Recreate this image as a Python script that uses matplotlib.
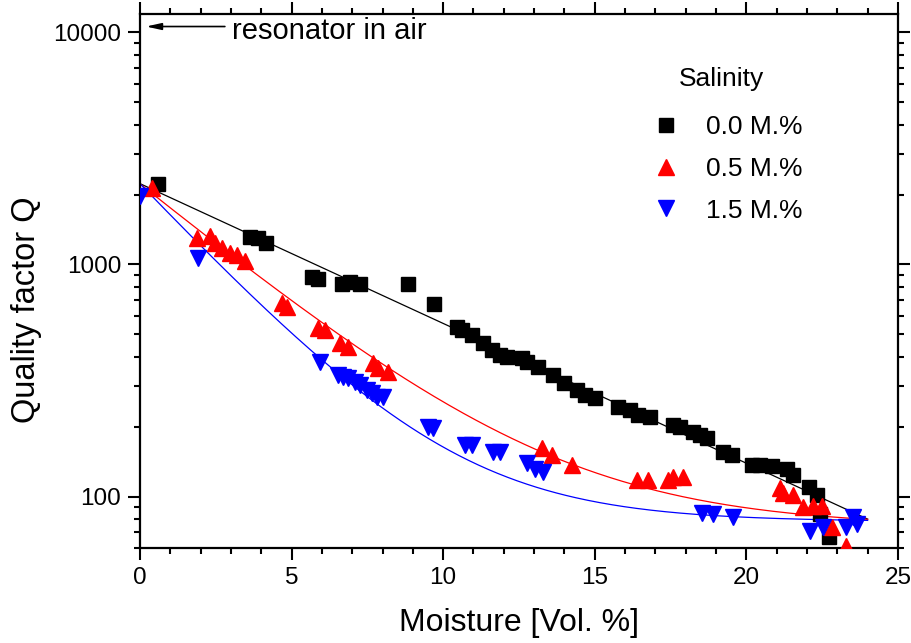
import matplotlib
matplotlib.use("Agg")
import matplotlib.pyplot as plt
import numpy as np
from matplotlib.ticker import MultipleLocator, LogLocator, NullFormatter, FixedLocator

plt.rcParams["font.family"] = ["Liberation Sans", "DejaVu Sans"]

# 0.0 M.% salinity (black squares)
x_s0 = [0.59, 3.63, 3.89, 4.16, 5.68, 5.87, 6.67, 6.93, 7.26, 8.84, 9.70, 10.46,
        10.63, 10.96, 11.32, 11.62, 11.88, 12.11, 12.61, 12.77, 13.14, 13.63, 13.99,
        14.42, 14.69, 15.02, 15.78, 16.17, 16.44, 16.83, 17.59, 17.82, 18.25, 18.48,
        18.71, 19.24, 19.54, 20.20, 20.46, 20.86, 21.35, 21.55, 22.05, 22.34, 22.44,
        22.71]
q_s0 = [2230, 1318, 1300, 1234, 887, 863, 820, 837, 820, 820, 673, 537,
        521, 495, 458, 427, 406, 398, 395, 380, 361, 334, 308,
        288, 274, 266, 243, 236, 225, 220, 204, 200, 190, 185,
        179, 156, 151, 137, 137, 135, 131, 124, 110, 102, 84,
        67]

# 0.5 M.% salinity (red up-triangles)
x_s1 = [0.40, 1.88, 2.31, 2.48, 2.71, 2.97, 3.20, 3.47, 4.69, 4.85, 5.87, 6.11,
        6.60, 6.86, 7.69, 7.85, 8.18, 13.27, 13.60, 14.26, 16.40, 16.77, 17.43,
        17.59, 17.92, 21.12, 21.22, 21.55, 21.88, 22.21, 22.51, 22.84, 23.27]
q_s1 = [2140, 1306, 1330, 1242, 1183, 1125, 1094, 1040, 681, 653, 531, 521,
        458, 440, 376, 358, 344, 162, 151, 137, 118, 118, 118,
        121, 121, 109, 104, 102, 90, 91, 91, 74, 61]

# 1.5 M.% salinity (blue down-triangles)
x_s2 = [0.00, 1.91, 5.94, 6.53, 6.70, 6.86, 7.10, 7.26, 7.49, 7.66, 7.82, 8.02,
        9.50, 9.67, 10.73, 10.96, 11.65, 11.88, 12.77, 13.04, 13.30, 18.55, 18.91,
        19.57, 22.11, 22.54, 23.27, 23.53, 23.66]
q_s2 = [1977, 1062, 380, 334, 327, 324, 312, 303, 288, 279, 269, 269,
        200, 197, 167, 167, 155, 155, 140, 131, 128, 85, 84,
        82, 71, 74, 74, 82, 76]

# fit parameters: Q = y0 + A*exp(-x/t)
fit_s0 = (0.0, 2230.0, 7.21)
fit_s1 = (74.0, 2150.0, 4.05)
fit_s2 = (78.0, 2150.0, 3.10)
FIT_X_MAX = 24.0

fig = plt.figure(figsize=(9.12, 6.43), dpi=100)
ax = fig.add_axes([0.1535, 0.1477, 0.8311, 0.8305])

xf = np.linspace(0, FIT_X_MAX, 300)
for (y0, a, t), c in ((fit_s0, "black"), (fit_s1, "red"), (fit_s2, "blue")):
    ax.plot(xf, y0 + a * np.exp(-xf / t), color=c, lw=0.9, zorder=2)

ax.plot(x_s0, q_s0, "s", color="black", ms=9.8, ls="none", label="0.0 M.%", zorder=3)
ax.plot(x_s1, q_s1, "^", color="red", ms=11.5, ls="none", label="0.5 M.%", zorder=3)
ax.plot(x_s2, q_s2, "v", color="blue", ms=11.5, ls="none", label="1.5 M.%", zorder=3)

ax.set_yscale("log")
ax.set_xlim(0, 25)
ax.set_ylim(60, 12000)
ax.xaxis.set_major_locator(MultipleLocator(5))
ax.xaxis.set_minor_locator(MultipleLocator(1))
ax.yaxis.set_major_locator(FixedLocator([100, 1000, 10000]))
ax.yaxis.set_major_formatter(matplotlib.ticker.FuncFormatter(lambda v, p: f"{int(v)}"))
ax.yaxis.set_minor_locator(LogLocator(base=10, subs=np.arange(2, 10)))
ax.yaxis.set_minor_formatter(NullFormatter())

for s in ax.spines.values():
    s.set_linewidth(1.6)
ax.tick_params(which="both", direction="out", top=True, right=True, width=1.5,
               labelsize=17.5)
ax.tick_params(which="major", length=8.5)
ax.tick_params(which="minor", length=4.5)
ax.tick_params(axis="x", pad=5)
ax.tick_params(axis="y", pad=5)

ax.set_xlabel("Moisture [Vol. %]", fontsize=23, labelpad=14)
ax.set_ylabel("Quality factor Q", fontsize=23.5, labelpad=8)
ax.yaxis.label.set_y(0.446)

ax.annotate("", xy=(0.2, 10600), xytext=(2.8, 10600),
            arrowprops=dict(arrowstyle="-|>,head_length=0.9,head_width=0.2",
                            color="black", lw=1.2, shrinkA=0, shrinkB=0))
ax.text(3.05, 10100, "resonator in air", fontsize=21, va="center", ha="left")

leg = ax.legend(loc="upper left", bbox_to_anchor=(0.635, 0.935), frameon=False,
                title="Salinity", fontsize=19, title_fontsize=19,
                handlelength=2.0, handletextpad=0.5, labelspacing=0.68,
                borderpad=0.2)
leg._legend_box.align = "center"
leg._legend_box.sep = 17

fig.savefig("out.png", dpi=100)
